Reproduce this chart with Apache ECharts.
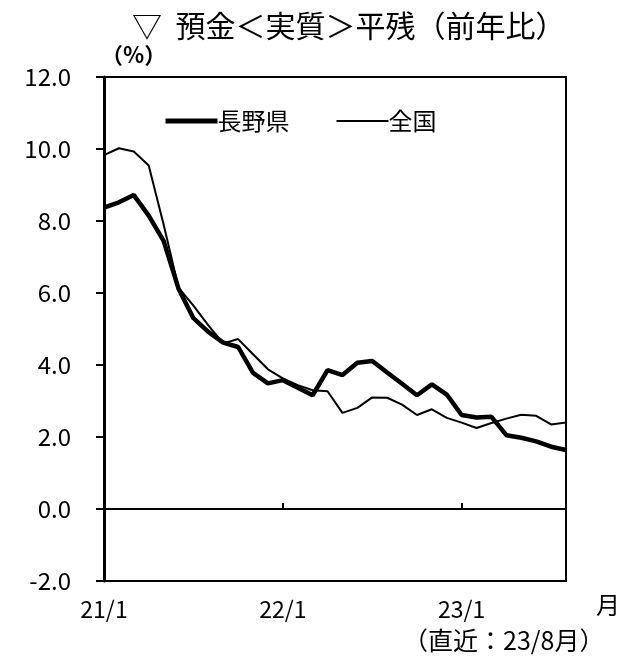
<!DOCTYPE html>
<html>
<head>
<meta charset="utf-8">
<script src="https://cdn.jsdelivr.net/npm/echarts@6/dist/echarts.min.js"></script>
<style>
html,body{margin:0;padding:0;background:#fff;}
#c{width:629px;height:658px;}
</style>
</head>
<body>
<div id="c"></div>
<script>
var categories = ["21/1","21/2","21/3","21/4","21/5","21/6","21/7","21/8","21/9","21/10","21/11","21/12",
                  "22/1","22/2","22/3","22/4","22/5","22/6","22/7","22/8","22/9","22/10","22/11","22/12",
                  "23/1","23/2","23/3","23/4","23/5","23/6","23/7","23/8"];
var naganoValues = [8.37,8.52,8.72,8.15,7.45,6.12,5.30,4.92,4.62,4.50,3.78,3.49,
                    3.58,3.37,3.16,3.86,3.72,4.06,4.11,3.79,3.48,3.16,3.46,3.18,
                    2.61,2.54,2.56,2.05,1.98,1.88,1.73,1.64];
var nationalValues = [9.83,10.02,9.93,9.54,7.90,6.15,5.65,5.10,4.60,4.72,4.30,3.88,
                      3.63,3.44,3.30,3.27,2.67,2.81,3.10,3.09,2.90,2.61,2.77,2.53,
                      2.40,2.25,2.39,2.51,2.62,2.59,2.35,2.40];
var yTicks = {min: -2, max: 12, step: 2};
var seriesNames = ["長野県", "全国"];

var FONT = '"Noto Sans CJK JP", sans-serif';
var chart = echarts.init(document.getElementById('c'), null, {renderer: 'canvas'});
chart.setOption({
  backgroundColor: '#fff',
  animation: false,
  textStyle: {fontFamily: FONT, color: '#000'},
  title: {
    text: '▽  預金＜実質＞平残（前年比）',
    left: 127, top: 6,
    textStyle: {fontFamily: FONT, fontSize: 30, fontWeight: 'normal', color: '#000'}
  },
  legend: {
    left: 158, top: 104,
    itemWidth: 52, itemHeight: 14, itemGap: 46,
    textStyle: {fontFamily: FONT, fontSize: 24, color: '#000', padding: [0,0,0,-5]},
    data: [
      {name: seriesNames[0], lineStyle: {width: 5, color: '#000'}, itemStyle: {opacity: 0}},
      {name: seriesNames[1], lineStyle: {width: 2, color: '#000'}, itemStyle: {opacity: 0}}
    ]
  },
  grid: {left: 104, right: 63, top: 77, bottom: 77, show: true, borderColor: '#000', borderWidth: 2, containLabel: false},
  xAxis: [
    {
      type: 'category', data: categories, boundaryGap: false,
      axisLine: {onZero: true, lineStyle: {color: '#000', width: 2}},
      axisTick: {show: true, inside: true, length: 6, interval: 11, lineStyle: {color: '#000', width: 2}},
      axisLabel: {show: false},
      splitLine: {show: false}
    },
    {
      type: 'category', data: categories, boundaryGap: false, position: 'bottom',
      axisLine: {show: true, onZero: false, lineStyle: {color: '#000', width: 2}},
      axisTick: {show: false},
      axisLabel: {interval: 11, fontFamily: FONT, fontSize: 23, color: '#000', margin: 17},
      splitLine: {show: false}
    }
  ],
  yAxis: {
    type: 'value', min: yTicks.min, max: yTicks.max, interval: yTicks.step,
    axisLine: {show: true, onZero: false, lineStyle: {color: '#000', width: 3}},
    axisTick: {show: true, inside: false, length: 8, lineStyle: {color: '#000', width: 2}},
    axisLabel: {formatter: function(v){return v.toFixed(1);}, fontFamily: FONT, fontSize: 24, color: '#000', margin: 33},
    splitLine: {show: false}
  },
  graphic: [
    {type: 'text', left: 101, top: 44, style: {text: '（%）', fontFamily: 'Noto Sans CJK JP', fontSize: 22, fontWeight: 'bold', fill: '#000'}},
    {type: 'text', left: 596, top: 593, style: {text: '月', fontFamily: 'Noto Sans CJK JP', fontSize: 24, fill: '#000'}},
    {type: 'text', left: 403, top: 628, style: {text: '（直近：23/8月）', fontFamily: 'Noto Sans CJK JP', fontSize: 25, fill: '#000'}}
  ],
  series: [
    {name: seriesNames[0], type: 'line', data: naganoValues, symbol: 'none', xAxisIndex: 0,
     lineStyle: {color: '#000', width: 4.5}, itemStyle: {color: '#000'}},
    {name: seriesNames[1], type: 'line', data: nationalValues, symbol: 'none', xAxisIndex: 0,
     lineStyle: {color: '#000', width: 2}, itemStyle: {color: '#000'}}
  ]
});
</script>
</body>
</html>
